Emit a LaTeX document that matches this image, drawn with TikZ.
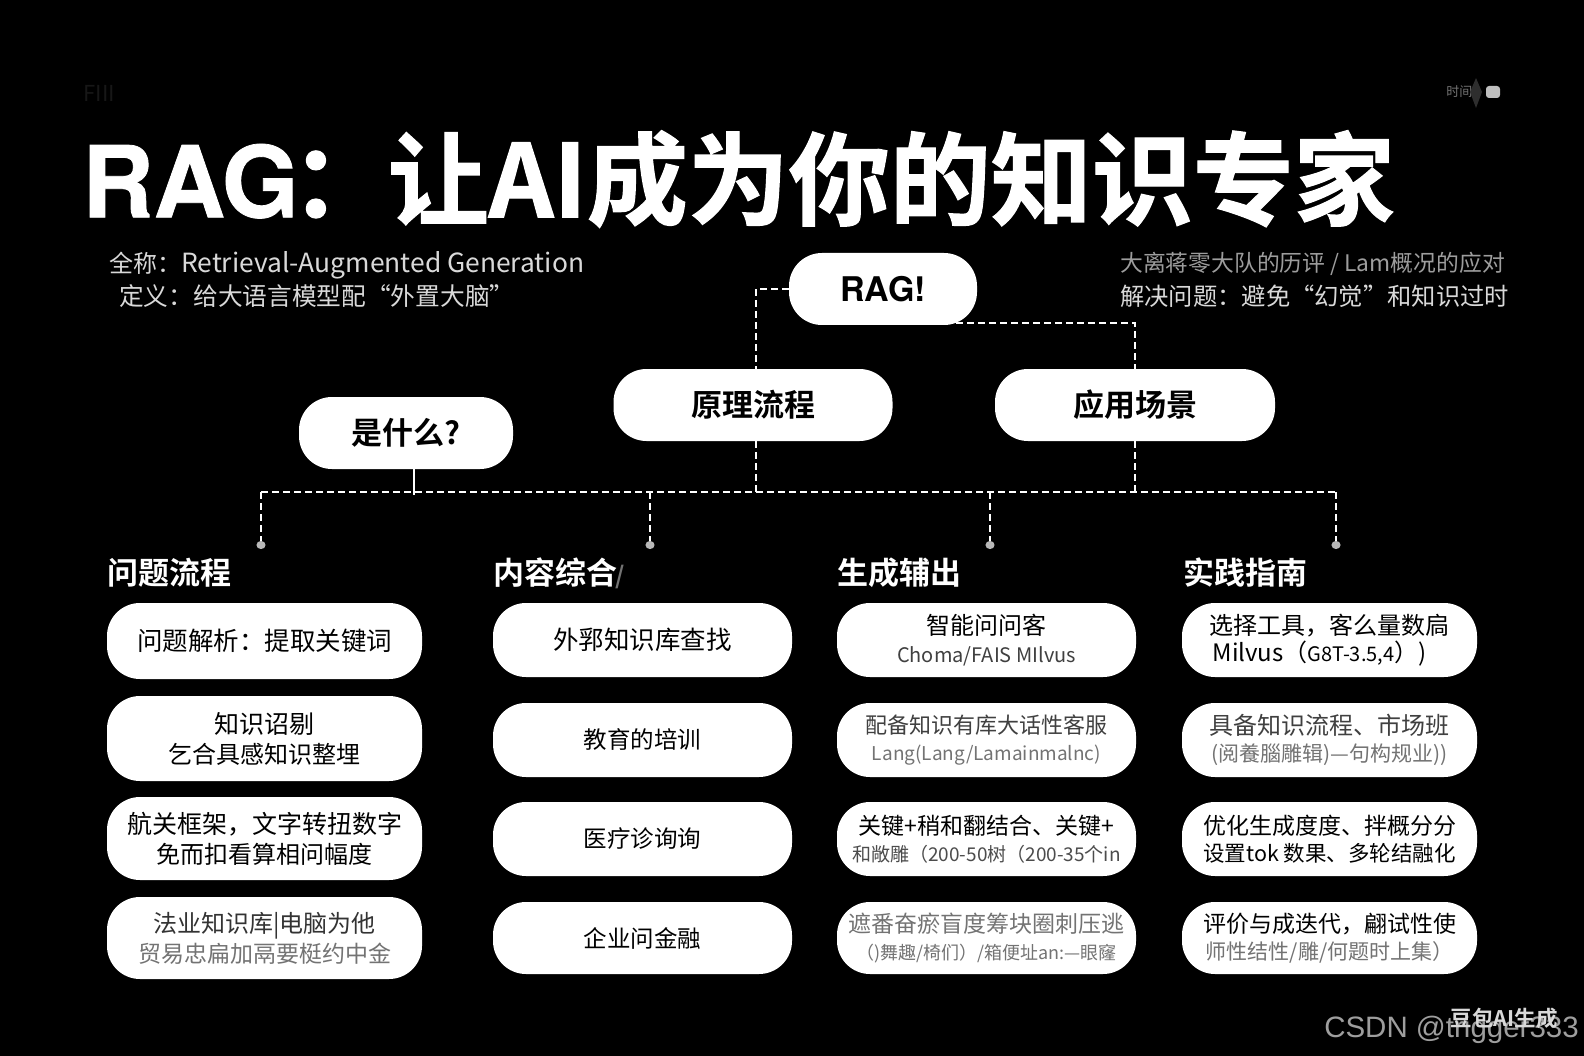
\documentclass[tikz,border=0pt]{standalone}
\usepackage{fontspec}
\setmainfont{Noto Sans CJK SC}
\newfontfamily\cjkheavy[FakeBold=1.2]{Noto Sans CJK SC Bold}
\newfontfamily\cjkbold{Noto Sans CJK SC Bold}
\newfontfamily\wmfont{Liberation Sans}
\newfontfamily\herosheavy[FakeBold=0.8]{TeX Gyre Heros Bold}
\newfontfamily\herosb{TeX Gyre Heros Bold}
\usetikzlibrary{arrows.meta}
\definecolor{softgray}{gray}{0.85}
\definecolor{tipgray}{gray}{0.72}
\definecolor{midgray}{gray}{0.45}
\definecolor{wmgray}{gray}{0.62}
\definecolor{faintgray}{gray}{0.09}
\tikzset{
  x=1pt,y=-1pt,
  pill/.style={fill=white,rounded corners=33pt,inner sep=0pt,align=center,text=black,font=\fontsize{24}{30}\selectfont},
  tightpill/.style={pill,font=\fontsize{24}{27.5}\selectfont},
  toppill/.style={pill,font=\cjkbold\fontsize{31}{36}\selectfont},
  head/.style={anchor=west,inner sep=0pt,text=white,font=\cjkbold\fontsize{31}{34}\selectfont},
  info/.style={anchor=west,inner sep=0pt,text=softgray,font=\fontsize{24}{30}\selectfont},
  link/.style={white,line width=1.7pt,dash pattern=on 7pt off 4pt},
  drop/.style={link,-{Circle[length=8pt,width=9pt,fill=tipgray,color=tipgray]}}
}
\newcommand{\pillbox}[6]{% name, x1, y1, x2, y2, text
  \node[pill,minimum width=#4pt-#2pt,minimum height=#5pt-#3pt] (#1) at ({(#2+#4)/2},{(#3+#5)/2}) {#6};}
\newcommand{\tightbox}[6]{%
  \node[tightpill,minimum width=#4pt-#2pt,minimum height=#5pt-#3pt] (#1) at ({(#2+#4)/2},{(#3+#5)/2}) {#6};}
\newcommand{\fs}[1]{\fontsize{#1}{30}\selectfont}
\begin{document}
\begin{tikzpicture}
\useasboundingbox (0,0) rectangle (1584,1056);
\fill[black] (0,0) rectangle (1584,1056);
% corners
\node[text=faintgray,font=\fontsize{22}{22}\selectfont,anchor=west] (tl) at (80,93) {FIII};
\node[text=midgray,font=\fontsize{13}{13}\selectfont,anchor=east] (tr) at (1476,92) {时间};
\fill[white!75!black,rounded corners=3pt] (1486,86) rectangle (1500,98);
\fill[white!18!black] (1476,78) -- (1482,92) -- (1476,108) -- (1470,92) -- cycle;
% title
\node[anchor=west,text=white,inner sep=0pt,font=\cjkheavy\fontsize{101}{110}\selectfont] (title) at (82,179) {{\herosheavy\fontsize{99}{110}\selectfont RAG}\hspace{-8pt}：\hspace{-4pt}让AI成为你的知识专家};
% info
\node[info] (i1) at (109,265) {全称：{\fs{26.4}Retrieval-Augmented Generation}};
\node[info,font=\fontsize{24.7}{30}\selectfont] (i2) at (119,296) {定义：给大语言模型配“外置大脑”};
\node[info,text=midgray!70!white,font=\fontsize{22.8}{30}\selectfont] (i3) at (1120,264) {大离蒋零大队的历评 / Lam概况的应对};
\node[info,font=\fontsize{24.3}{30}\selectfont] (i4) at (1120,296) {解决问题：避免“幻觉”和知识过时};
% top pills
\node[toppill,font=\herosb\fontsize{34}{36}\selectfont,minimum width=188pt,minimum height=72pt] (rag) at (883,289) {RAG!};
\node[toppill,minimum width=279pt,minimum height=72pt] (proc) at (753,405) {原理流程};
\node[toppill,minimum width=280pt,minimum height=72pt] (app) at (1135,405) {应用场景};
\node[toppill,minimum width=214pt,minimum height=72pt] (what) at (406,433) {是什么?};
% connectors
\coordinate (b1) at (261,549); \coordinate (b2) at (650,549);
\coordinate (b3) at (990,549); \coordinate (b4) at (1336,549);
\coordinate (busl) at (261,492); \coordinate (busr) at (1336,492);
\coordinate (j2) at (650,492); \coordinate (j3) at (990,492);
\coordinate (ragout) at (956,323);
\draw[link] (rag.west) -| ([xshift=3pt]proc.north);
\draw[link] (ragout) -| (app.north);
\draw[link] ([xshift=3pt]proc.south) -- ++(0,51);
\draw[link] (app.south) -- ++(0,51);
\draw[white,line width=1.8pt] ([xshift=8pt]what.south) -- ++(0,26);
\draw[link] (busl) -- (busr);
\draw[drop] (busl) -- (b1);
\draw[drop] (j2) -- (b2);
\draw[drop] (j3) -- (b3);
\draw[drop] (busr) -- (b4);
% headings
\node[head] (h1) at (107,573) {问题流程};
\node[head] (h2) at (493,573) {内容综合\hspace{-2pt}\textcolor{midgray}{\fs{24}/}};
\node[head] (h3) at (837,573) {生成辅出};
\node[head] (h4) at (1183,573) {实践指南};
% column 1
\pillbox{a1}{107}{603}{422}{679}{\fs{25.5}问题解析：提取关键词}
\pillbox{a2}{107}{696}{422}{781}{\fs{25}知识诏剔\\乞合具感知识整埋}
\pillbox{a3}{107}{797}{422}{880}{\fs{25}航关框架，文字转扭数字\\免而扣看算相问幅度}
\pillbox{a4}{107}{897}{422}{979}{\textcolor{black!80}{法业知识库|电脑为他}\\{\fs{23}\textcolor{midgray}{贸易忠扁加鬲要梃约中金}}}
% column 2
\pillbox{b1n}{493}{603}{792}{677}{\fs{25.5}外郛知识库查找}
\pillbox{b2n}{493}{703}{792}{777}{\fs{23.5}教育的培训}
\pillbox{b3n}{493}{802}{792}{876}{\fs{23.5}医疗诊询询}
\pillbox{b4n}{493}{902}{792}{974}{\fs{23.5}企业问金融}
% column 3
\tightbox{c1}{837}{603}{1136}{677}{智能问问客\\{\fs{20}\textcolor{black!75}{Choma/FAIS MIlvus}}}
\tightbox{c2}{837}{703}{1136}{777}{{\fs{22}\textcolor{black!75}{配备知识有库大话性客服}}\\{\fs{19}\textcolor{midgray}{Lang(Lang/Lamainmalnc)}}}
\tightbox{c3}{837}{802}{1136}{876}{{\fs{23}关键+稍和翻结合、关键+}\\{\fs{19}\textcolor{black!70}{和敞雕（200-50树（200-35个in}}}
\tightbox{c4}{837}{902}{1136}{974}{{\fs{23}\textcolor{midgray}{遮番奋瘀盲度筹块圈刺压逃}}\\{\fs{18}\textcolor{midgray}{（)舞趣/椅们）/箱便址an:—眼窿}}}
% column 4
\tightbox{d1}{1182}{603}{1477}{677}{选择工具，客么量数扃\\\hspace*{-20pt}Milvus（{\fs{20}G8T-3.5,4}）)}
\tightbox{d2}{1182}{703}{1477}{777}{\textcolor{black!75}{具备知识流程、市场班}\\{\fs{21}\textcolor{midgray}{(阅養腦雕辑)—句构规业))}}}
\tightbox{d3}{1182}{802}{1477}{876}{{\fs{23}优化生成度度、拌概分分}\\{\fs{21.5}设置tok 数果、多轮结融化}}
\tightbox{d4}{1182}{902}{1477}{974}{{\fs{23}评价与成迭代，翩试性使}\\{\fs{21}\textcolor{midgray}{师性结性/雕/何题时上集）}}}
% watermarks
\node[anchor=east,inner sep=0pt,text=wmgray,font=\wmfont\fontsize{29.5}{30}\selectfont] (wm2) at (1579,1030) {CSDN @trigger333};
\node[anchor=east,inner sep=0pt,text=softgray,font=\cjkbold\fontsize{21.5}{22}\selectfont] (wm1) at (1558,1018) {豆包AI生成};
\end{tikzpicture}
\end{document}
